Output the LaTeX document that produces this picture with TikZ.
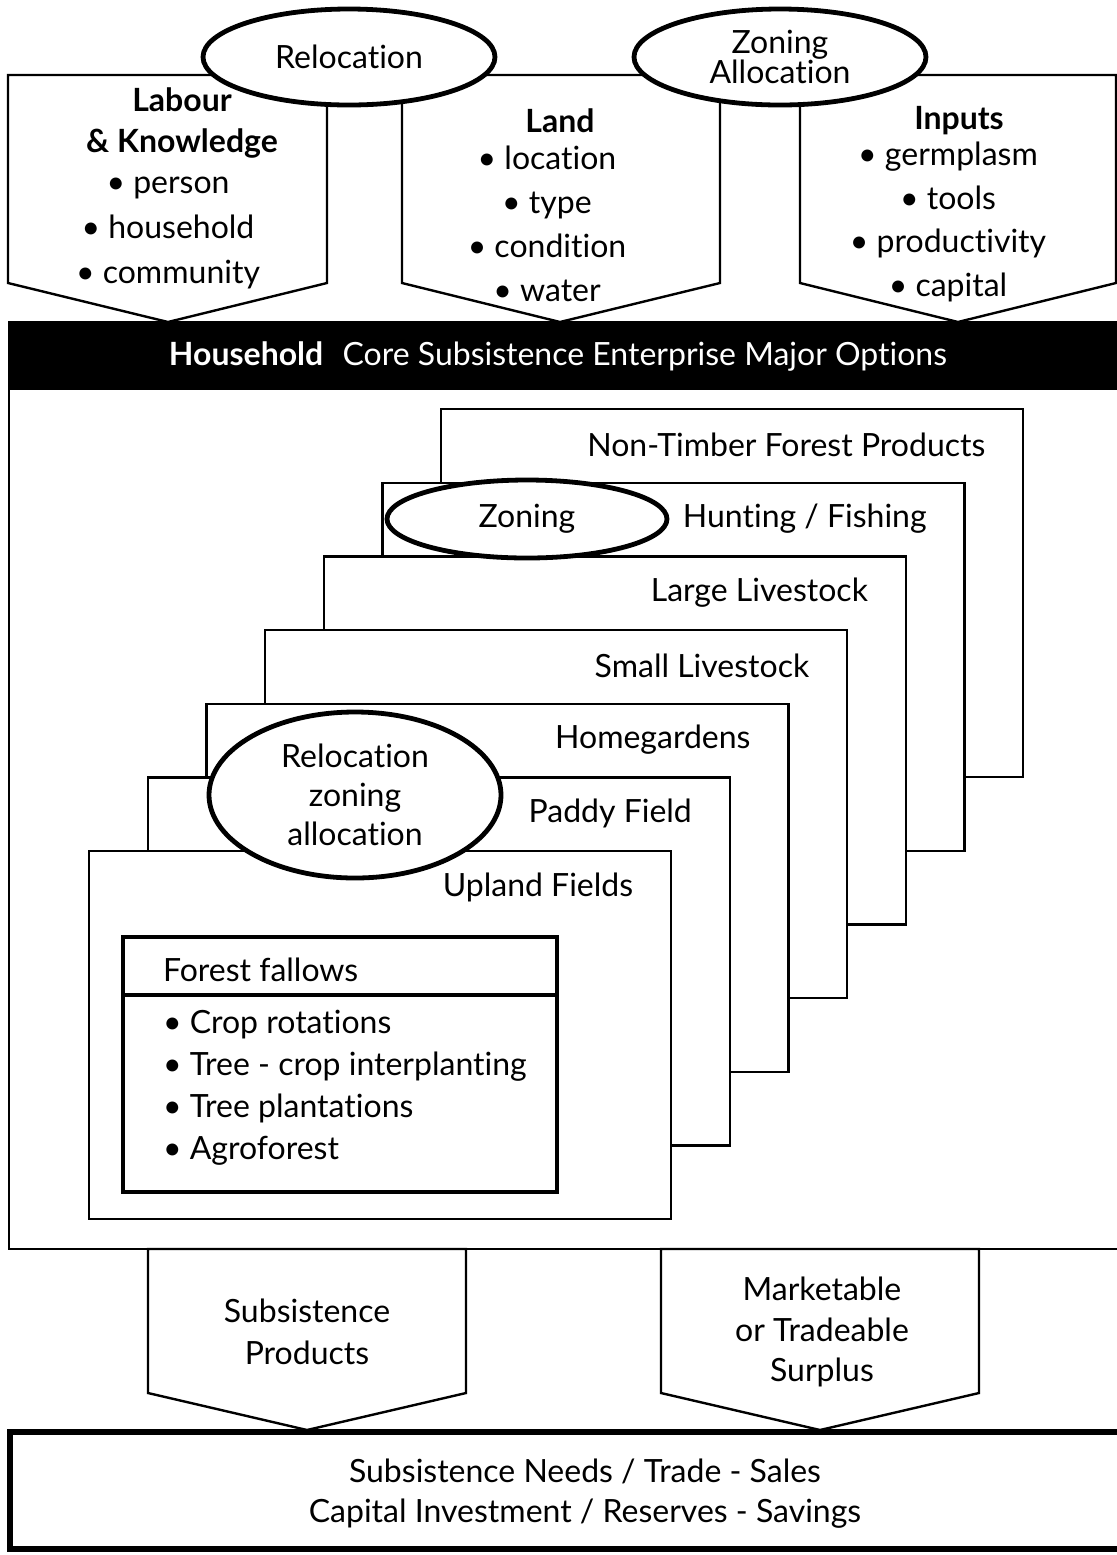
\documentclass[tikz,border=0pt]{standalone}
\usepackage{fontspec}
\setmainfont{Lato}[Ligatures={NoCommon,NoRequired,NoContextual}]
\usetikzlibrary{shapes.geometric,positioning}
\tikzset{
  every node/.style={font=\fontsize{16}{22}\selectfont},
}

\begin{document}
\begin{tikzpicture}[
  x=0.5pt,y=-0.5pt,
  panel/.style={draw, line width=1.2pt, fill=white, line join=miter},
  tag/.style={ellipse, draw, line width=2.4pt, fill=white, inner sep=0pt, align=center},
  optbox/.style={rectangle, draw, line width=1.2pt, fill=white, anchor=north west,
    minimum width=291pt, minimum height=184pt, inner sep=0pt},
  head/.style={align=center, font=\bfseries\fontsize{16}{20.5}\selectfont},
  items/.style={align=center, font=\fontsize{16}{22}\selectfont}
]
\useasboundingbox (0,0) rectangle (1116,1555);

% household frame and header bar
\draw[panel] (9,322) rectangle (1130,1249);
\fill (8,322) rectangle (1130,390);
\node[text=white] (house) at (558,357) {\textbf{Household}\hspace{.35em} Core Subsistence Enterprise Major Options};

% resources
\draw[panel] (8,75) -- (327,75) -- (327,283) -- (168,322) -- (8,283) -- cycle;
\draw[panel] (402,75) -- (720,75) -- (720,283) -- (560,322) -- (402,283) -- cycle;
\draw[panel] (800,75) -- (1116,75) -- (1116,283) -- (958,322) -- (800,283) -- cycle;

\node[tag, minimum width=146pt, minimum height=48pt] (reloc) at (349,57) {Relocation};
\node[tag, minimum width=146pt, minimum height=48pt, font=\fontsize{16}{15}\selectfont] (zonealloc) at (780,57) {Zoning\\Allocation};

\node[head] (labour) at (182,123) {Labour\\\& Knowledge};
\node[items, font=\fontsize{16}{22.5}\selectfont] (labourlist) at (168,233) {• person\\• household\\• community};
\node[head] (land) at (560,121) {Land};
\node[items] (landlist) at (547,224) {• location\\• type\\• condition\\• water};
\node[head] (inputs) at (959,121) {Inputs};
\node[items, font=\fontsize{16}{21.7}\selectfont] (inputlist) at (948,222) {• germplasm\\• tools\\• productivity\\• capital};

% enterprise options, back to front
\foreach \lbl [count=\i from 0] in {{Non-Timber Forest Products},{Hunting / Fishing},{Large Livestock},{Small Livestock},{Homegardens},{Paddy Field},{Upland Fields}}{
  \node[optbox] (opt\i) at ({440-58.7*\i},{408+73.67*\i}) {};
  \node[anchor=east] (optlbl\i) at (opt\i.north east) [xshift=-16pt, yshift=-18.5pt] {\lbl};
}

\node[tag, minimum width=140pt, minimum height=39pt] (zoning) at (527,519) {Zoning};
\node[tag, minimum width=146pt, minimum height=83pt, font=\fontsize{16}{19.5}\selectfont] (relzone) at (355,795) {Relocation\\zoning\\allocation};

\node[rectangle, draw, line width=2pt, fill=white, anchor=north west, inner sep=0pt,
  minimum width=217pt, minimum height=127.5pt] (fallow) at (121,935) {};
\draw[line width=2pt] ([yshift=-30pt]fallow.north west) -- ([yshift=-30pt]fallow.north east);
\node[anchor=west] (fallowhead) at (156,970) {Forest fallows};
\node[anchor=west, align=left, font=\fontsize{16}{21}\selectfont] (fallowlist) at (156,1088)
  {• Crop rotations\\• Tree - crop interplanting\\• Tree plantations\\• Agroforest};

% outputs
\draw[panel] (148,1249) -- (466,1249) -- (466,1393) -- (307,1430) -- (148,1393) -- cycle;
\draw[panel] (661,1249) -- (979,1249) -- (979,1393) -- (820,1430) -- (661,1393) -- cycle;
\node[items, font=\fontsize{16}{21}\selectfont] (subprod) at (307,1332) {Subsistence\\Products};
\node[items, font=\fontsize{16}{20.25}\selectfont] (surplus) at (822,1332) {Marketable\\or Tradeable\\Surplus};

\draw[line width=3pt] (10,1432) rectangle (1130,1549);
\node[items, font=\fontsize{16}{20}\selectfont] (needs) at (585,1494) {Subsistence Needs / Trade - Sales\\Capital Investment / Reserves - Savings};
\end{tikzpicture}
\end{document}
